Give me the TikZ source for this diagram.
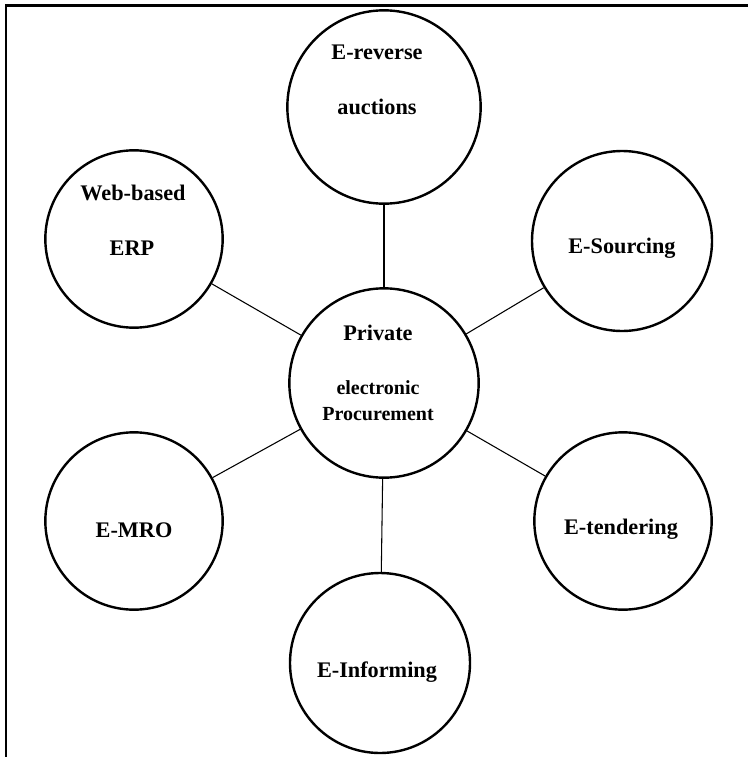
\documentclass[tikz,border=0pt]{standalone}
\usepackage{fontspec}
\setmainfont{Liberation Serif}
\begin{document}
\begin{tikzpicture}[x=0.75pt,y=-0.75pt,
  bubble/.style={circle,draw,line width=1.8pt,inner sep=0pt,minimum size=135pt},
  lbl/.style={font=\bfseries\fontsize{16.7}{20}\selectfont,inner sep=0pt},
  sublbl/.style={font=\bfseries\fontsize{15}{18}\selectfont,inner sep=0pt},
  link/.style={line width=0.8pt}]
\useasboundingbox (0,0) rectangle (748,757);
% page frame (top and left rules)
\coordinate (fbl) at (6,757);
\coordinate (ftr) at (748,5.5);
\draw[line width=1.6pt] (fbl) |- (ftr);

% bubbles
\node[bubble,minimum size=145pt] (rev) at (384,107) {};
\node[bubble,minimum size=133pt] (erp) at (134,239) {};
\node[bubble] (src) at (622,241) {};
\node[bubble,minimum size=142pt] (ctr) at (384,383) {};
\node[bubble,minimum size=133pt] (mro) at (134,521) {};
\node[bubble,minimum size=133pt] (tnd) at (623,521) {};
\node[bubble] (inf) at (380,663) {};

% labels
\node[lbl] (revA) at (377,52) {E-reverse};
\node[lbl] (revB) at (377,107) {auctions};
\node[lbl] (erpA) at (133,193) {Web-based};
\node[lbl] (erpB) at (132,248) {ERP};
\node[lbl] (srcA) at (622,248) {E-Sourcing};
\node[lbl] (ctrA) at (378,333) {Private};
\node[sublbl] (ctrB) at (378,388) {electronic};
\node[sublbl] (ctrC) at (378,414) {Procurement};
\node[lbl] (mroA) at (134,530) {E-MRO};
\node[lbl] (tndA) at (621,529) {E-tendering};
\node[lbl] (infA) at (377,672) {E-Informing};

% spokes
\foreach \n in {rev,erp,src,mro,tnd,inf}
  \draw[link] (ctr) -- (\n);
\end{tikzpicture}
\end{document}
